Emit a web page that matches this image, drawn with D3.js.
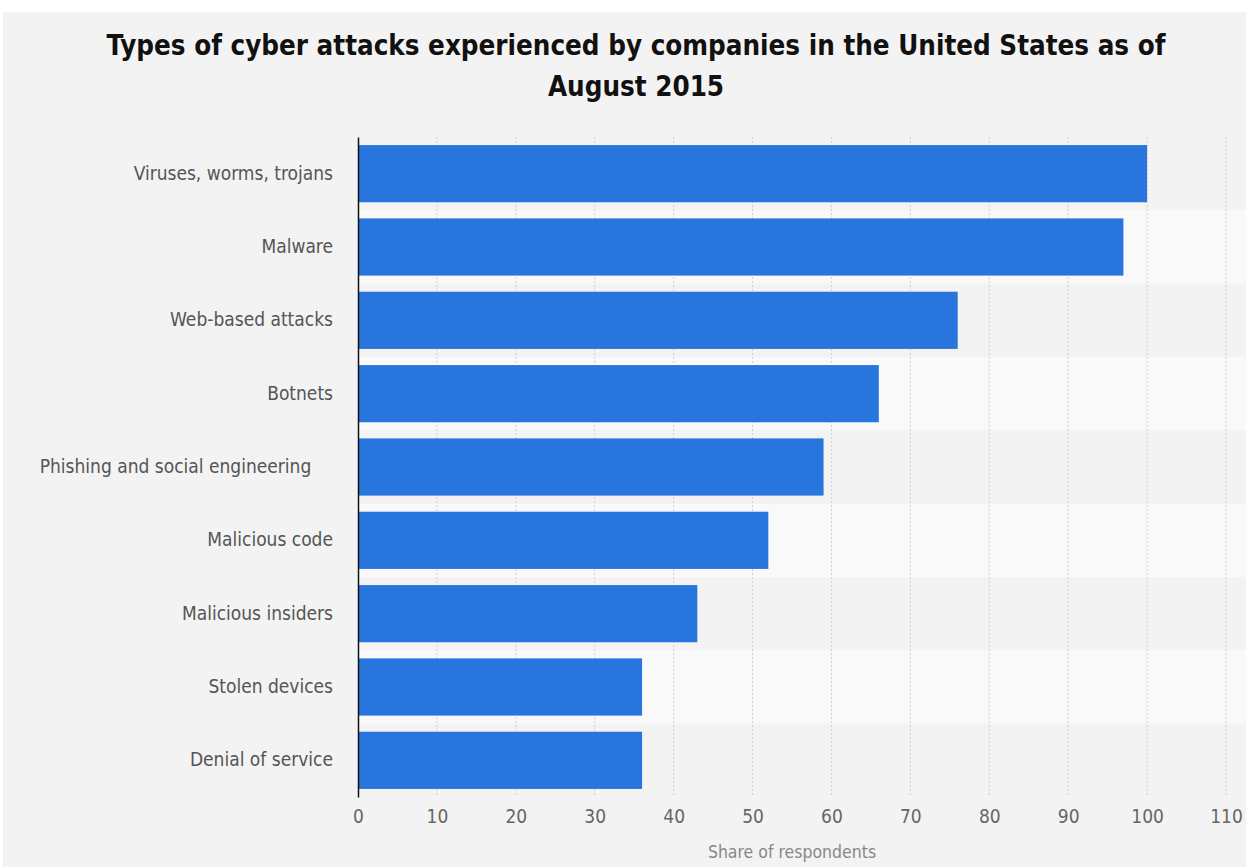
<!DOCTYPE html>
<html>
<head>
<meta charset="utf-8">
<script src="https://cdn.jsdelivr.net/npm/d3@7"></script>
<style>
  body { margin: 0; background: #fff; }
  svg { display: block; font-family: "DejaVu Sans Condensed", "DejaVu Sans", sans-serif; font-stretch: condensed; }
</style>
</head>
<body>
<div id="chart"></div>
<script>
// Daten
const categories = [
  "Viruses, worms, trojans",
  "Malware",
  "Web-based attacks",
  "Botnets",
  "Phishing and social engineering",
  "Malicious code",
  "Malicious insiders",
  "Stolen devices",
  "Denial of service"
];
const shares = [100, 97, 76, 66, 59, 52, 43, 36, 36];
const xTicks = [0, 10, 20, 30, 40, 50, 60, 70, 80, 90, 100, 110];
const titleLines = ["Types of cyber attacks experienced by companies in the United States as of", "August 2015"];

const width = 1246;
const height = 867;
const margin = { top: 137, right: 16, bottom: 70, left: 358 };

const svg = d3.select("#chart")
  .append("svg")
  .attr("width", width)
  .attr("height", height);

// Hintergrund
svg.append("rect")
  .attr("x", 3).attr("y", 12)
  .attr("width", width - 3).attr("height", height - 12)
  .attr("fill", "#f3f3f3");

const x = d3.scaleLinear()
  .domain([0, 110])
  .range([margin.left, 1226]);

const y = d3.scaleBand()
  .domain(categories)
  .range([margin.top, height - margin.bottom])
  .paddingInner(0.22)
  .paddingOuter(0.11);

const step = y.step();

// Zeilenstreifen
svg.append("g")
  .selectAll("rect")
  .data(categories)
  .join("rect")
  .attr("x", margin.left)
  .attr("y", d => y(d) - step * y.paddingInner() / 2)
  .attr("width", width - margin.left)
  .attr("height", step)
  .attr("fill", (d, i) => i % 2 ? "#f9f9f9" : "#f3f3f3");

// Gitterlinien
svg.append("g")
  .selectAll("line")
  .data(xTicks.filter(d => d > 0))
  .join("line")
  .attr("x1", d => x(d)).attr("x2", d => x(d))
  .attr("y1", margin.top).attr("y2", height - margin.bottom)
  .attr("stroke", "#cfcfcf")
  .attr("stroke-width", 1)
  .attr("stroke-dasharray", "2,2");

// Balken
svg.append("g")
  .selectAll("rect")
  .data(shares)
  .join("rect")
  .attr("x", x(0))
  .attr("y", (d, i) => y(categories[i]))
  .attr("width", d => x(d) - x(0))
  .attr("height", y.bandwidth())
  .attr("fill", "#2876dd");

// y-Achse
const yAxis = svg.append("g")
  .attr("transform", `translate(${margin.left},0)`)
  .call(d3.axisLeft(y).tickSize(0).tickPadding(25))
  .attr("font-family", null)
  .attr("font-size", null);
yAxis.select(".domain").attr("stroke", "#111").attr("stroke-width", 1.5);
yAxis.selectAll("text")
  .attr("fill", "#555")
  .style("font-size", "19px")
  .style("white-space", "pre")
  .text(d => d === "Phishing and social engineering" ? d + "    " : d);

// x-Achse
const xAxis = svg.append("g")
  .attr("transform", `translate(0,${height - margin.bottom})`)
  .call(d3.axisBottom(x).tickValues(xTicks).tickSize(0).tickPadding(13))
  .attr("font-family", null)
  .attr("font-size", null);
xAxis.select(".domain").remove();
xAxis.selectAll("text")
  .attr("fill", "#666")
  .style("font-size", "19px");

// Achsentitel
svg.append("text")
  .attr("x", x(55))
  .attr("y", 858)
  .attr("text-anchor", "middle")
  .attr("fill", "#888")
  .style("font-size", "17.5px")
  .text("Share of respondents");

// Titel
svg.append("g")
  .selectAll("text")
  .data(titleLines)
  .join("text")
  .attr("x", 636)
  .attr("y", (d, i) => 55 + i * 41)
  .attr("text-anchor", "middle")
  .attr("fill", "#111")
  .style("font-size", "27.5px")
  .style("font-weight", "bold")
  .text(d => d);
</script>
</body>
</html>
